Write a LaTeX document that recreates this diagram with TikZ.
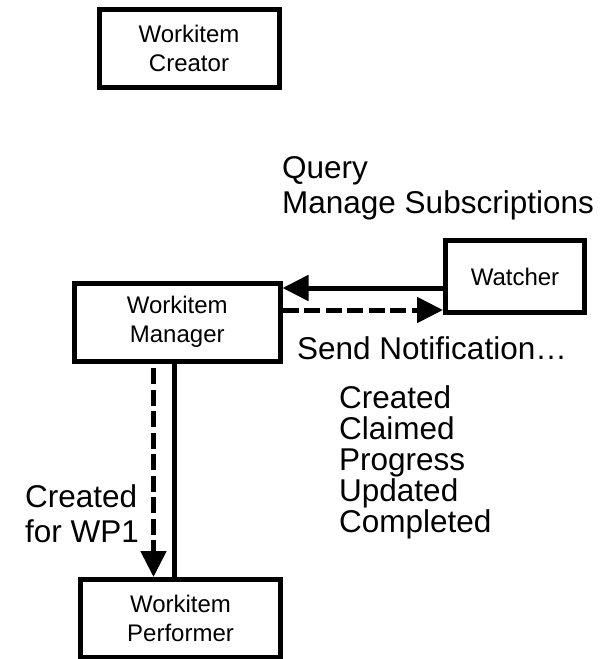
\documentclass[tikz,border=0pt]{standalone}
\usepackage{fontspec}
\setmainfont{Liberation Sans}
\usetikzlibrary{arrows.meta}

\begin{document}
\begin{tikzpicture}[x=1pt,y=-1pt,
  rolebox/.style={draw, line width=5pt, align=center, inner sep=0pt,
    font=\fontsize{24}{28.5}\selectfont},
  lbl/.style={anchor=base west, inner sep=0pt,
    font=\fontsize{31.5}{35}\selectfont},
  link/.style={line width=5pt},
  flow/.style={line width=5pt, -{Triangle[length=26pt,width=25pt]}},
  dashflow/.style={flow, dash pattern=on 16pt off 5.5pt}]

  \useasboundingbox (0,0) rectangle (611,659);

  % participants
  \node[rolebox, minimum width=180pt, minimum height=78pt] (creator) at (189,48.5) {Workitem\\Creator};
  \node[rolebox, minimum width=205.5pt, minimum height=78pt] (manager) at (177.25,322) {Workitem\\Manager};
  \node[rolebox, minimum width=139pt, minimum height=72pt] (watcher) at (515,276.5) {Watcher};
  \node[rolebox, minimum width=200pt, minimum height=77.5pt] (performer) at (180.5,618.25) {Workitem\\Performer};

  % watcher <-> manager
  \draw[flow] ([yshift=-11.5pt]watcher.west) -- ([yshift=-11.5pt]watcher.west -| manager.east);
  \draw[dashflow] ([yshift=12pt]manager.east) -- ([yshift=12pt]manager.east -| watcher.west);

  % manager -> performer
  \coordinate (mgrdash) at ([xshift=-23.75pt]manager.south);
  \coordinate (mgrline) at ([xshift=-3.25pt]manager.south);
  \draw[dashflow, shorten <=4.5pt] (mgrdash) -- (mgrdash |- performer.north);
  \draw[link] (mgrline) -- (mgrline |- performer.north);

  % labels
  \node[lbl] (query) at (282,178) {Query};
  \node[lbl] (subs) at (282,213) {Manage Subscriptions};
  \node[lbl] (notify) at (297,359) {Send Notification…};
  \node[lbl] (evcreated) at (339,408) {Created};
  \node[lbl] (evclaimed) at (339,439) {Claimed};
  \node[lbl] (evprogress) at (339,470) {Progress};
  \node[lbl] (evupdated) at (339,501) {Updated};
  \node[lbl] (evcompleted) at (339,532) {Completed};
  \node[lbl] (wpcreated) at (25,507) {Created};
  \node[lbl] (wpfor) at (25,542) {for WP1};
\end{tikzpicture}
\end{document}
